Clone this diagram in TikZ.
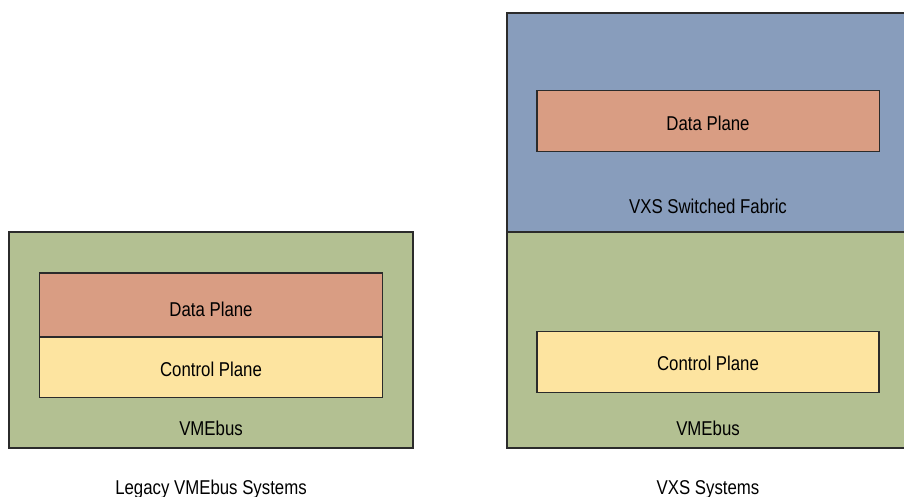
\documentclass[tikz,border=0pt]{standalone}
\usepackage{fontspec}
\setmainfont{Liberation Sans}[FakeStretch=0.84]
\definecolor{vgreen}{HTML}{B3C092}
\definecolor{vsalmon}{HTML}{D99D83}
\definecolor{vyellow}{HTML}{FDE4A0}
\definecolor{vblue}{HTML}{889DBC}
\definecolor{vline}{HTML}{2B2B2B}
\begin{document}
\begin{tikzpicture}[x=1pt,y=-1pt,
  boxstyle/.style={draw=vline, line width=1.2pt, inner sep=0pt, outer sep=0pt},
  lbl/.style={anchor=base, inner sep=0pt, font=\fontsize{20}{22}\selectfont}]
\useasboundingbox (0,0) rectangle (904,496);
% left system
\node[boxstyle, fill=vgreen, minimum width=404pt, minimum height=216pt] (lbus) at (211,340) {};
\node[boxstyle, fill=vsalmon, minimum width=343pt, minimum height=64pt] (ldata) at (211,305) {};
\node[boxstyle, fill=vyellow, minimum width=343pt, minimum height=60.5pt] (lctrl) at (211,367.25) {};
\node[lbl] (ldatat) at (211,316) {Data Plane};
\node[lbl] (lctrlt) at (211,376) {Control Plane};
\node[lbl] (lbust) at (211,435) {VMEbus};
\node[lbl] (lcap) at (211,494) {Legacy VMEbus Systems};
% right system
\node[boxstyle, fill=vblue, minimum width=402pt, minimum height=219pt] (rfab) at (708,122.5) {};
\node[boxstyle, fill=vgreen, minimum width=402pt, minimum height=216pt] (rbus) at (708,340) {};
\node[boxstyle, fill=vsalmon, minimum width=342.5pt, minimum height=60.6pt] (rdata) at (708.25,121) {};
\node[boxstyle, fill=vyellow, minimum width=342pt, minimum height=60.3pt] (rctrl) at (708,362) {};
\node[lbl] (rdatat) at (708,130) {Data Plane};
\node[lbl] (rfabt) at (708,213) {VXS Switched Fabric};
\node[lbl] (rctrlt) at (708,370) {Control Plane};
\node[lbl] (rbust) at (708,435) {VMEbus};
\node[lbl] (rcap) at (708,494) {VXS Systems};
\end{tikzpicture}
\end{document}
